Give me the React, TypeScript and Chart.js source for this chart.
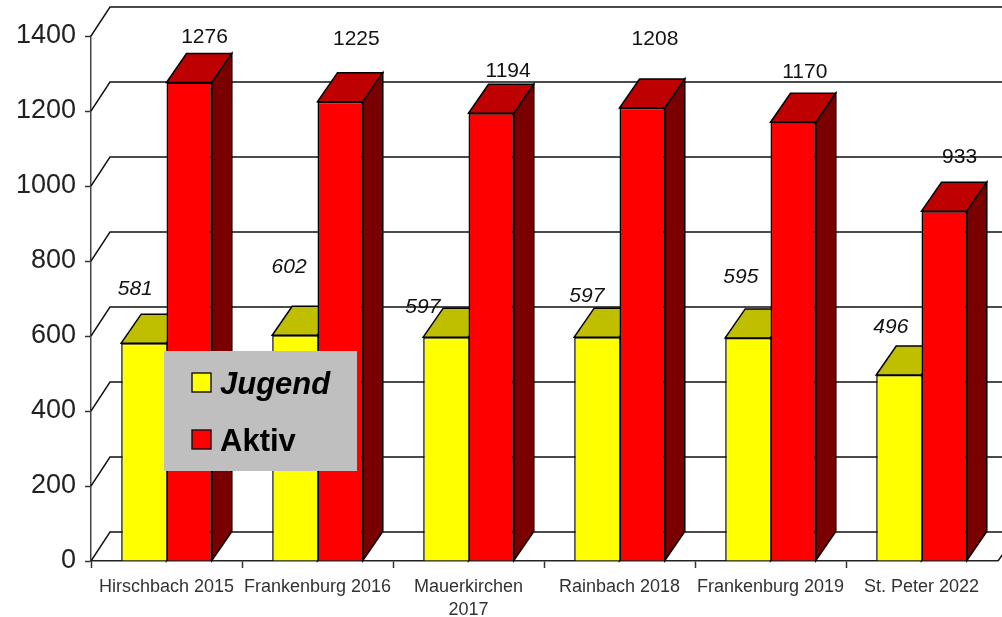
import React, { useEffect, useRef } from "react";
import { Chart, registerables } from "chart.js";

Chart.register(...registerables);

const categories: (string | string[])[] = [
  "Hirschbach 2015",
  "Frankenburg 2016",
  ["Mauerkirchen", "2017"],
  "Rainbach 2018",
  "Frankenburg 2019",
  "St. Peter 2022",
];
const jugend = [581, 602, 597, 597, 595, 496];
const aktiv = [1276, 1225, 1194, 1208, 1170, 933];
const yTicks = [0, 200, 400, 600, 800, 1000, 1200, 1400];

// label placement relative to the bar's top centre
const jugendLabelOffsets = [[-8.6, -54], [-5.8, -68], [-23, -30], [-10, -41], [-7, -61], [-8, -48]];
const aktivLabelOffsets = [[15.4, -45.5], [16.2, -62.6], [17, -42], [12.8, -69], [11.6, -50], [15.4, -54]];

const DEPTH_X = 20;
const DEPTH_Y = 29;
const LINE = "#111111";

const faces = [
  { front: "#ffff00", top: "#bfbf00", side: "#7f7f00" },
  { front: "#ff0000", top: "#bf0000", side: "#7a0000" },
];

const poly = (ctx: CanvasRenderingContext2D, pts: number[][], fill: string) => {
  ctx.beginPath();
  pts.forEach(([x, y], i) => (i ? ctx.lineTo(x, y) : ctx.moveTo(x, y)));
  ctx.closePath();
  ctx.fillStyle = fill;
  ctx.fill();
  ctx.strokeStyle = "#000000";
  ctx.lineWidth = 1.5;
  ctx.stroke();
};

const depthPlugin = {
  id: "depth",
  beforeDatasetsDraw(chart: any) {
    const { ctx, scales, chartArea, width } = chart;
    ctx.save();
    ctx.strokeStyle = LINE;
    ctx.lineWidth = 1.4;
    yTicks.forEach((v) => {
      const y = scales.y.getPixelForValue(v);
      ctx.beginPath();
      ctx.moveTo(chartArea.left, y);
      ctx.lineTo(chartArea.left + DEPTH_X - 1, y - DEPTH_Y);
      ctx.lineTo(width, y - DEPTH_Y);
      ctx.stroke();
    });
    const y0 = scales.y.getPixelForValue(0);
    ctx.beginPath();
    ctx.moveTo(chartArea.right + 1, y0);
    ctx.lineTo(chartArea.right + 1 + DEPTH_X, y0 - DEPTH_Y);
    ctx.stroke();
    chart.data.datasets.forEach((_: any, di: number) => {
      chart.getDatasetMeta(di).data.forEach((bar: any) => {
        const l = bar.x - bar.width / 2;
        const r = bar.x + bar.width / 2;
        const t = bar.y;
        const b = bar.base;
        poly(ctx, [[l, t], [l + DEPTH_X, t - DEPTH_Y], [r + DEPTH_X, t - DEPTH_Y], [r, t]], faces[di].top);
        poly(ctx, [[r, t], [r + DEPTH_X, t - DEPTH_Y], [r + DEPTH_X, b - DEPTH_Y], [r, b]], faces[di].side);
      });
    });
    ctx.restore();
  },
  afterDatasetsDraw(chart: any) {
    const { ctx } = chart;
    ctx.save();
    ctx.textAlign = "center";
    ctx.textBaseline = "middle";
    ctx.fillStyle = "#111111";
    chart.data.datasets.forEach((ds: any, di: number) => {
      const offsets = di === 0 ? jugendLabelOffsets : aktivLabelOffsets;
      ctx.font = `${di === 0 ? "italic " : ""}21px "Liberation Sans"`;
      chart.getDatasetMeta(di).data.forEach((bar: any, i: number) => {
        ctx.fillText(String(ds.data[i]), bar.x + offsets[i][0], bar.y + offsets[i][1]);
      });
    });

    // legend panel
    ctx.fillStyle = "#bfbfbf";
    ctx.fillRect(164, 351, 193, 120);
    ctx.textAlign = "left";
    chart.data.datasets.forEach((ds: any, di: number) => {
      const cy = di === 0 ? 383 : 440;
      ctx.fillStyle = faces[di].front;
      ctx.strokeStyle = "#111111";
      ctx.lineWidth = 1.4;
      ctx.fillRect(192, cy - 10, 19, 19);
      ctx.strokeRect(192, cy - 10, 19, 19);
      ctx.fillStyle = "#000000";
      ctx.font = `${di === 0 ? "italic " : ""}bold 31px "Liberation Sans"`;
      ctx.fillText(ds.label, 220, cy + 2);
    });
    ctx.restore();
  },
};

export default function App() {
  const ref = useRef<HTMLCanvasElement>(null);
  useEffect(() => {
    document.body.style.margin = "0";
    document.body.style.background = "#ffffff";
    const chart = new Chart(ref.current!, {
      type: "bar",
      data: {
        labels: categories as any,
        datasets: [
          {
            label: "Jugend",
            data: jugend,
            backgroundColor: faces[0].front,
            borderColor: "#000000",
            borderWidth: { top: 1.5, left: 1.5, right: 0, bottom: 1.5 },
          },
          { label: "Aktiv", data: aktiv, backgroundColor: faces[1].front, borderColor: "#000000", borderWidth: 1.5 },
        ],
      },
      options: {
        animation: false,
        responsive: false,
        devicePixelRatio: 1,
        categoryPercentage: 0.6,
        barPercentage: 1,
        layout: { autoPadding: false, padding: { left: 0, right: 5, top: 36, bottom: 0 } },
        plugins: { legend: { display: false }, tooltip: { enabled: false }, title: { display: false } },
        scales: {
          x: {
            afterFit: (s: any) => { s.height = 56; },
            grid: {
              drawOnChartArea: false,
              tickLength: 7,
              tickColor: (c: any) => (c.tick ? "#333333" : "rgba(0,0,0,0)"),
              tickWidth: 1.5,
            },
            border: { color: "#222222", width: 1.5 },
            ticks: {
              font: { family: '"Liberation Sans"', size: 18, lineHeight: 1.27 },
              color: "#333333",
              padding: 8,
              maxRotation: 0,
              autoSkip: false,
            },
          },
          y: {
            min: 0,
            max: 1400,
            afterFit: (s: any) => { s.width = 91; },
            grid: { drawOnChartArea: false, tickLength: 6, tickColor: "#333333", tickWidth: 1.5 },
            border: { color: "#444444", width: 1.5 },
            afterBuildTicks: (s: any) => { s.ticks = yTicks.map((value) => ({ value })); },
            ticks: {
              font: { family: '"Liberation Sans"', size: 27 },
              color: "#222222",
              padding: 9,
              callback: (v: any) => String(v),
            },
          },
        },
      } as any,
      plugins: [depthPlugin],
    });
    return () => chart.destroy();
  }, []);
  return <canvas ref={ref} width={1002} height={617} style={{ display: "block", filter: "blur(0.35px)" }} />;
}
